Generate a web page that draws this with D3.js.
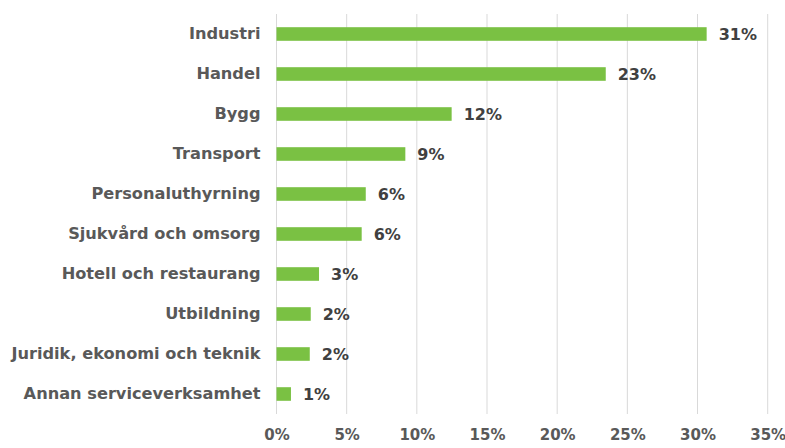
<html>
  <head>
    <style>
      body { margin: 0; background: #fff; }
      text { font-family: "DejaVu Sans", sans-serif; font-weight: bold; }
    </style>
  </head>
  <body>
    <svg id="chart" width="785" height="448"></svg>
    <script src="https://cdnjs.cloudflare.com/ajax/libs/d3/7.8.5/d3.min.js"></script>
    <script>
// branscher, andel i procent
var categories = ["Industri", "Handel", "Bygg", "Transport", "Personaluthyrning",
  "Sjukvård och omsorg", "Hotell och restaurang", "Utbildning",
  "Juridik, ekonomi och teknik", "Annan serviceverksamhet"];
var values = [30.65, 23.46, 12.48, 9.18, 6.36, 6.07, 3.03, 2.44, 2.37, 1.03];
var valueLabels = ["31%", "23%", "12%", "9%", "6%", "6%", "3%", "2%", "2%", "1%"];
var ticks = [0, 5, 10, 15, 20, 25, 30, 35];

var margin = {top: 14, left: 276.5, right: 17.3, bottom: 34};
var width = 785, height = 448;

var svg = d3.select('#chart');

var x = d3.scaleLinear()
  .domain([0, 35])
  .range([margin.left, width - margin.right]);

var y = d3.scaleBand()
  .domain(categories)
  .range([margin.top, height - margin.bottom])
  .paddingInner(0.66)
  .paddingOuter(0.33);

// gridlines
svg.append('g')
  .selectAll('line')
  .data(ticks)
  .join('line')
    .attr('x1', d => x(d)).attr('x2', d => x(d))
    .attr('y1', margin.top).attr('y2', height - margin.bottom)
    .attr('stroke', '#d9d9d9')
    .attr('stroke-width', 1);

// x axis tick labels
var xAxis = d3.axisBottom(x)
  .tickValues(ticks)
  .tickFormat(d => d + '%')
  .tickSize(0)
  .tickPadding(0);

svg.append('g')
  .attr('transform', 'translate(0,' + (height - 19) + ')')
  .call(xAxis)
  .call(g => g.select('.domain').remove())
  .call(g => g.selectAll('text')
    .attr('fill', '#595959')
    .attr('font-size', 15)
    .attr('font-family', '"DejaVu Sans", sans-serif')
    .attr('font-weight', 'bold'));

// category labels
var yAxis = d3.axisLeft(y).tickSize(0).tickPadding(16);
svg.append('g')
  .attr('transform', 'translate(' + margin.left + ',0)')
  .call(yAxis)
  .call(g => g.select('.domain').remove())
  .call(g => g.selectAll('text')
    .attr('fill', '#595959')
    .attr('font-size', 16.2)
    .attr('font-family', '"DejaVu Sans", sans-serif')
    .attr('font-weight', 'bold'));

// bars
svg.append('g')
  .selectAll('rect')
  .data(values)
  .join('rect')
    .attr('x', x(0))
    .attr('y', (d, i) => y(categories[i]))
    .attr('width', d => x(d) - x(0))
    .attr('height', y.bandwidth())
    .attr('fill', '#7ac143');

// value labels
svg.append('g')
  .selectAll('text')
  .data(values)
  .join('text')
    .attr('x', d => x(d) + 12)
    .attr('y', (d, i) => y(categories[i]) + y.bandwidth() / 2)
    .attr('dy', '0.36em')
    .attr('fill', '#404040')
    .attr('font-size', 16)
    .text((d, i) => valueLabels[i]);
    </script>
  </body>
</html>
